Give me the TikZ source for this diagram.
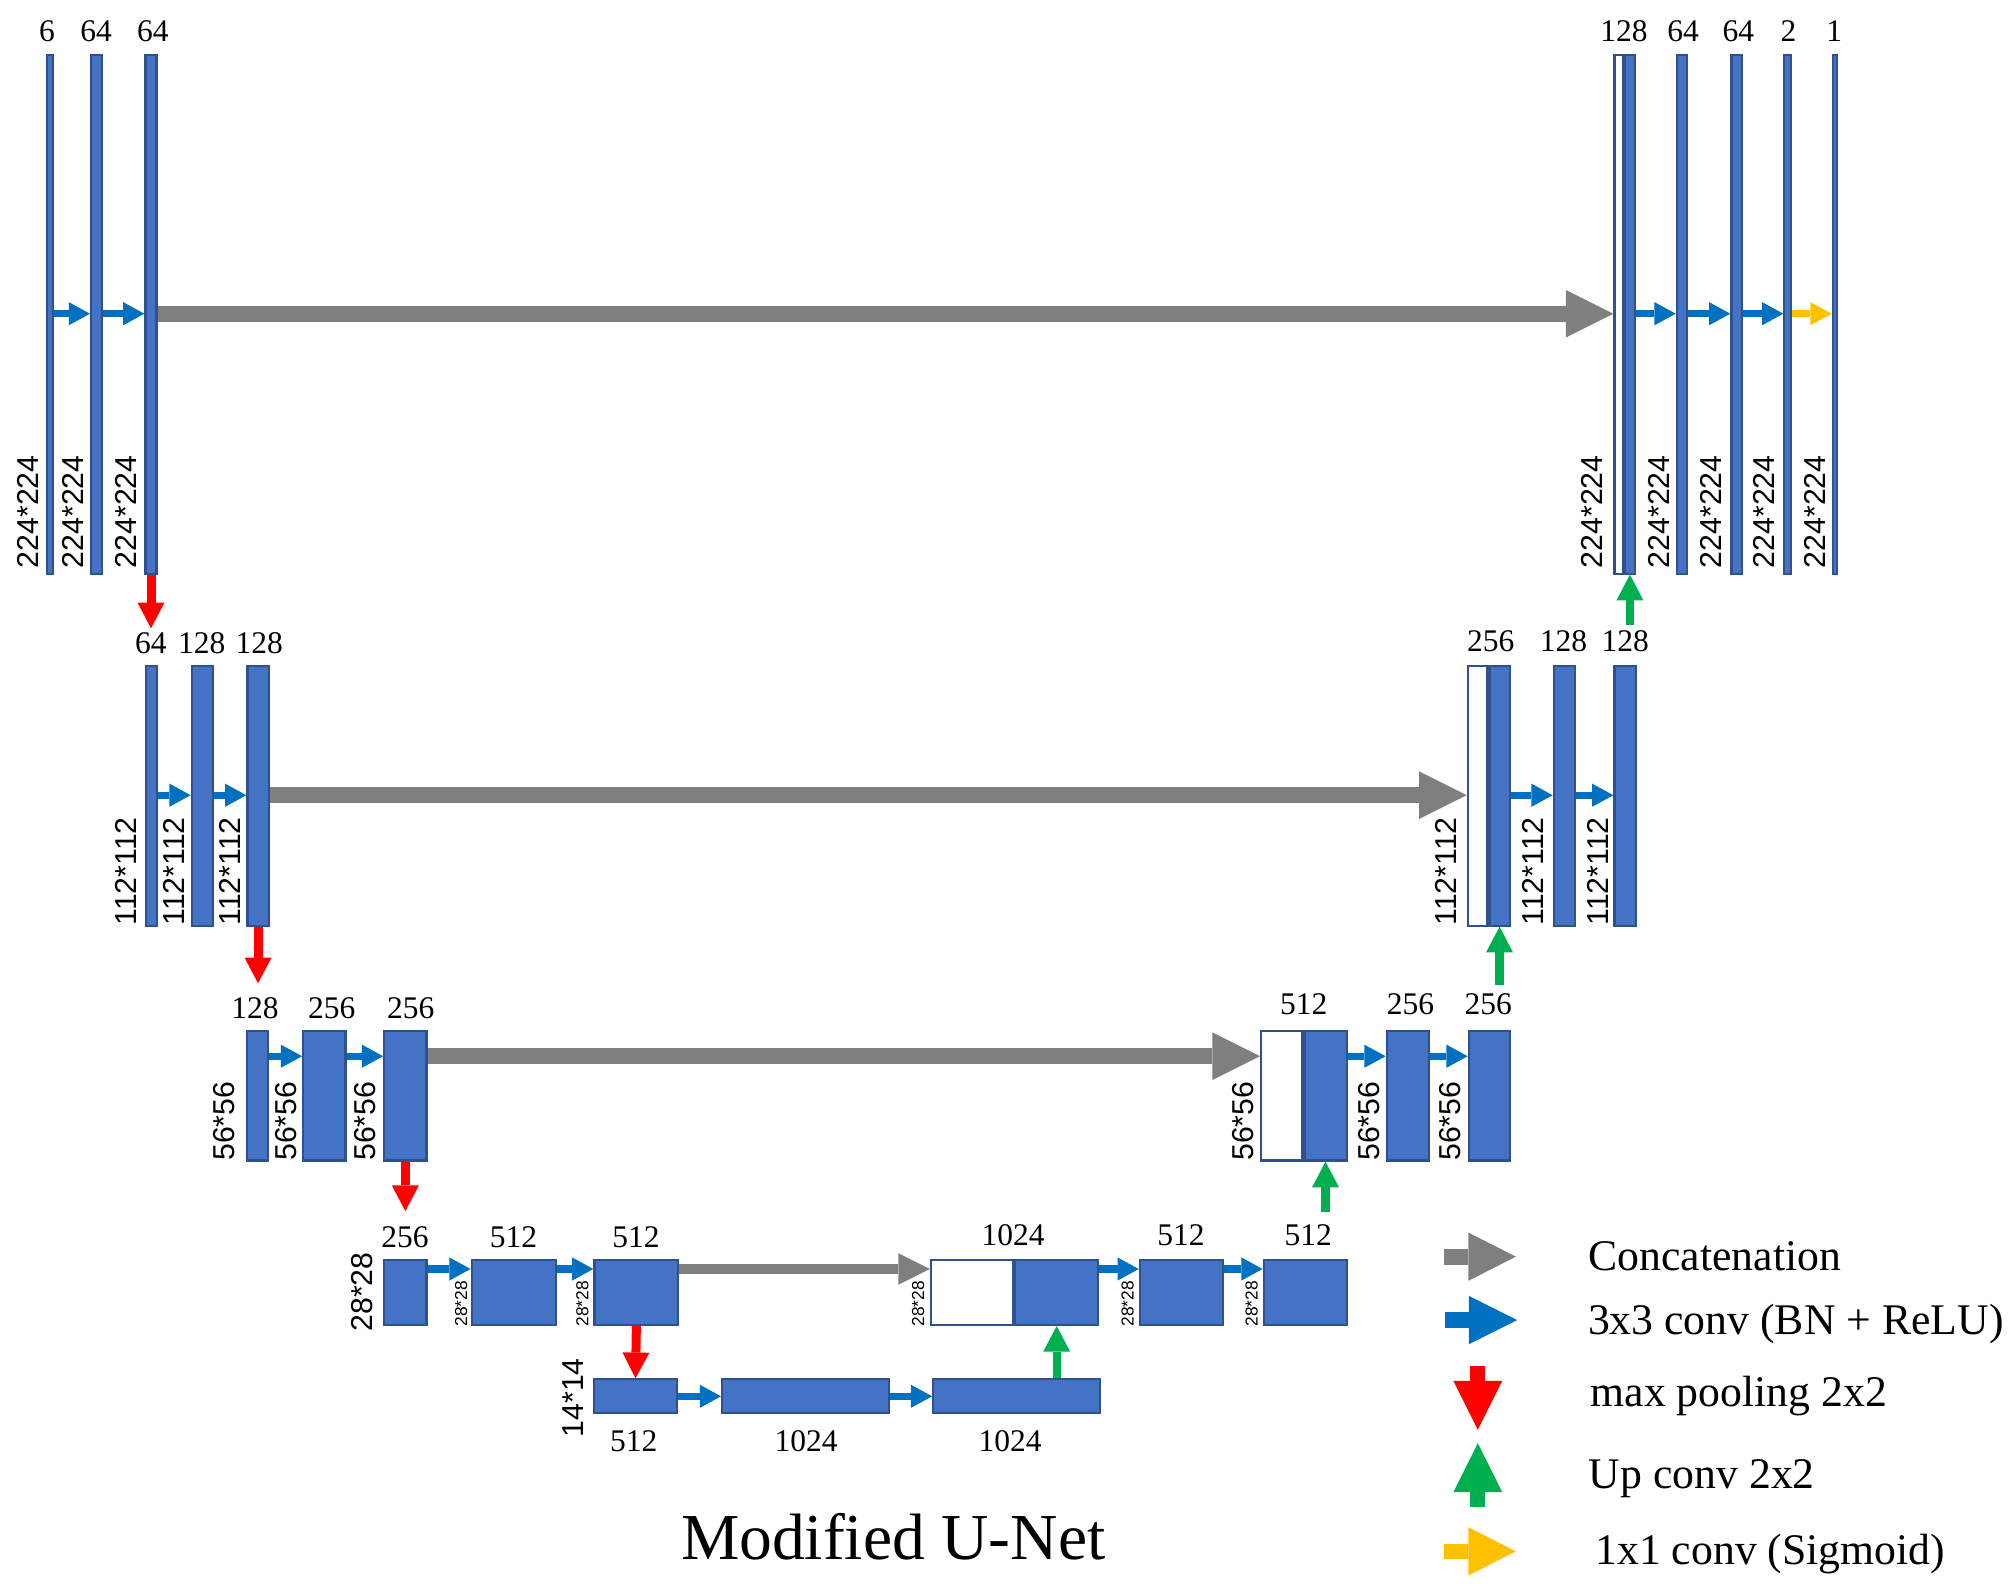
\documentclass[tikz,border=0pt]{standalone}
\usepackage{fontspec}
\setmainfont{Liberation Serif}
\newfontfamily\dimfont{Liberation Sans}
\usetikzlibrary{arrows.meta}
\definecolor{barfill}{HTML}{4472C4}
\definecolor{barline}{HTML}{2F528F}
\definecolor{cblue}{HTML}{0070C0}
\definecolor{cgray}{HTML}{7F7F7F}
\definecolor{cred}{HTML}{FF0000}
\definecolor{cgreen}{HTML}{00B050}
\definecolor{cyellow}{HTML}{FFC000}
\tikzset{
  bar/.style={draw=barline, fill=barfill, line width=1.7pt, inner sep=0pt},
  catw/.style={bar, fill=white},
  num/.style={anchor=base, inner sep=0pt, font=\fontsize{24.5}{24.5}\selectfont},
  dimlab/.style={rotate=90, anchor=west, inner sep=0pt, font=\dimfont\fontsize{23.5}{23.5}\selectfont},
  dimsmall/.style={rotate=90, anchor=west, inner sep=0pt, font=\dimfont\fontsize{13.5}{13.5}\selectfont},
  legtext/.style={anchor=base west, inner sep=0pt, font=\fontsize{34}{34}\selectfont},
  conv/.style={draw=cblue, line width=5.5pt, -{Triangle[length=16.5pt,width=18pt,line width=0pt]}},
  sigm/.style={draw=cyellow, line width=5.5pt, -{Triangle[length=16.5pt,width=18pt,line width=0pt]}},
  concat/.style={draw=cgray, line width=12.5pt, -{Triangle[length=37pt,width=37pt,line width=0pt]}},
  concatsmall/.style={draw=cgray, line width=8pt, -{Triangle[length=24.5pt,width=24.5pt,line width=0pt]}},
  pool/.style={draw=cred, line width=7pt, -{Triangle[length=20pt,width=21pt,line width=0pt]}},
  upconv/.style={draw=cgreen, line width=6.5pt, -{Triangle[length=20pt,width=21pt,line width=0pt]}},
  leggray/.style={draw=cgray, line width=12.2pt, -{Triangle[length=37pt,width=37.6pt,line width=0pt]}},
  legblue/.style={draw=cblue, line width=12.2pt, -{Triangle[length=37.6pt,width=37.6pt,line width=0pt]}},
  legred/.style={draw=cred, line width=11.6pt, -{Triangle[length=38pt,width=38pt,line width=0pt]}},
  leggreen/.style={draw=cgreen, line width=11.6pt, -{Triangle[length=38pt,width=38pt,line width=0pt]}},
  legyellow/.style={draw=cyellow, line width=12.2pt, -{Triangle[length=37pt,width=37.6pt,line width=0pt]}},
}
\newcommand\ubar[6][bar]{%
  \node[#1, minimum width={#4-#3-1.7}, minimum height={#6-#5-1.7}] (#2) at ({(#3+#4)/2},{(#5+#6)/2}) {};}
\begin{document}
\begin{tikzpicture}[x=1pt,y=-1pt]
\useasboundingbox (0,0) rectangle (1568,1238);
% helper heights
\coordinate (y1) at (0,244);
\coordinate (y2) at (0,618.5);
\coordinate (y3) at (0,821.5);
\coordinate (y4) at (0,987);
\coordinate (y5) at (0,1086);
\coordinate (p1) at (0,488.7);
\coordinate (p2) at (0,764.8);
\coordinate (p3) at (0,942);
\coordinate (g1) at (0,486);
\coordinate (g2) at (0,766);
\coordinate (g3) at (0,943);
% ---------- level 1 ----------
\ubar{L1a}{35.5}{42}{42}{447}
\ubar{L1b}{70}{80.4}{42}{447}
\ubar{L1c}{112.3}{122.6}{42}{447}
\ubar[catw]{R1w}{1254.8}{1263}{42}{447}
\ubar{R1cat}{1263}{1272.4}{42}{447}
\ubar{R1b}{1303.3}{1313.2}{42}{447}
\ubar{R1c}{1345.8}{1356}{42}{447}
\ubar{R1d}{1387}{1394}{42}{447}
\ubar{R1e}{1424.6}{1429.8}{42}{447}
% ---------- level 2 ----------
\ubar{L2a}{113}{122.9}{517.2}{720.8}
\ubar{L2b}{148.3}{166.4}{517.2}{720.8}
\ubar{L2c}{191.6}{209.8}{517.2}{720.8}
\ubar[catw]{R2w}{1140.8}{1157.6}{517.2}{720.8}
\ubar{R2cat}{1157.6}{1175}{517.2}{720.8}
\ubar{R2b}{1207.6}{1225.8}{517.2}{720.8}
\ubar{R2c}{1254.8}{1273.4}{517.2}{720.8}
% ---------- level 3 ----------
\ubar{L3a}{191}{209}{801}{903.5}
\ubar{L3b}{235}{269.6}{801}{903.5}
\ubar{L3c}{298}{332.6}{801}{903.5}
\ubar[catw]{R3w}{980}{1013.7}{801}{903.5}
\ubar{R3cat}{1013.7}{1048.2}{801}{903.5}
\ubar{R3b}{1077.7}{1112.2}{801}{903.5}
\ubar{R3c}{1141.5}{1175.5}{801}{903.5}
% ---------- level 4 ----------
\ubar{L4a}{298}{332.6}{979}{1031.3}
\ubar{L4b}{366}{433}{979}{1031.3}
\ubar{L4c}{461.5}{528.4}{979}{1031.3}
\ubar[catw]{R4w}{723.3}{788.7}{979}{1031.3}
\ubar{R4cat}{788.7}{855}{979}{1031.3}
\ubar{R4b}{885.7}{952.3}{979}{1031.3}
\ubar{R4c}{982}{1048.4}{979}{1031.3}
% ---------- level 5 ----------
\ubar{L5a}{461}{527.6}{1072}{1100}
\ubar{L5b}{560.8}{692.2}{1072}{1100}
\ubar{L5c}{725}{856.3}{1072}{1100}
% ---------- channel labels ----------
\node[num] (n1a) at (36.5,32.1) {6};
\node[num] (n1b) at (74.8,32.1) {64};
\node[num] (n1c) at (118.9,32.1) {64};
\node[num] (m1a) at (1263,32.1) {128};
\node[num] (m1b) at (1309,32.1) {64};
\node[num] (m1c) at (1352,32.1) {64};
\node[num] (m1d) at (1391,32.1) {2};
\node[num] (m1e) at (1426.7,32.1) {1};
\node[num] (n2a) at (117.4,508.5) {64};
\node[num] (n2b) at (156.9,508.5) {128};
\node[num] (n2c) at (201.7,508.5) {128};
\node[num] (m2a) at (1159.4,507.1) {256};
\node[num] (m2b) at (1216,507.1) {128};
\node[num] (m2c) at (1264,507.1) {128};
\node[num] (n3a) at (198.3,792.1) {128};
\node[num] (n3b) at (258,792.1) {256};
\node[num] (n3c) at (319.4,792.1) {256};
\node[num] (m3a) at (1014,789.1) {512};
\node[num] (m3b) at (1097,789.1) {256};
\node[num] (m3c) at (1157.6,789.1) {256};
\node[num] (n4a) at (315,970.1) {256};
\node[num] (n4b) at (399.3,970.1) {512};
\node[num] (n4c) at (494.7,970.1) {512};
\node[num] (m4a) at (788,969.1) {1024};
\node[num] (m4b) at (918.6,969.1) {512};
\node[num] (m4c) at (1017.6,969.1) {512};
\node[num] (n5a) at (493,1128.6) {512};
\node[num] (n5b) at (627,1128.6) {1024};
\node[num] (n5c) at (785.6,1128.6) {1024};
% ---------- size labels ----------
\node[dimlab] (d1a) at (22,442) {224*224};
\node[dimlab] (d1b) at (56.5,442) {224*224};
\node[dimlab] (d1c) at (98,442) {224*224};
\node[dimlab] (e1a) at (1238,442) {224*224};
\node[dimlab] (e1b) at (1290,442) {224*224};
\node[dimlab] (e1c) at (1331,442) {224*224};
\node[dimlab] (e1d) at (1372,442) {224*224};
\node[dimlab] (e1e) at (1411.7,442) {224*224};
\node[dimlab] (d2a) at (98,720) {112*112};
\node[dimlab] (d2b) at (135.3,720) {112*112};
\node[dimlab] (d2c) at (178.9,720) {112*112};
\node[dimlab] (e2a) at (1125,720) {112*112};
\node[dimlab] (e2b) at (1192.6,720) {112*112};
\node[dimlab] (e2c) at (1243,720) {112*112};
\node[dimlab] (d3a) at (174.2,903) {56*56};
\node[dimlab] (d3b) at (222.5,903) {56*56};
\node[dimlab] (d3c) at (283.9,903) {56*56};
\node[dimlab] (e3a) at (967,903) {56*56};
\node[dimlab] (e3b) at (1065,903) {56*56};
\node[dimlab] (e3c) at (1128,903) {56*56};
\node[dimlab] (d4a) at (282,1035.8) {28*28};
\node[dimsmall] (d4b) at (358.6,1032) {28*28};
\node[dimsmall] (d4c) at (453,1032) {28*28};
\node[dimsmall] (e4a) at (714.2,1032) {28*28};
\node[dimsmall] (e4b) at (877,1032) {28*28};
\node[dimsmall] (e4c) at (973.5,1032) {28*28};
\node[dimlab] (d5a) at (445.4,1118) {14*14};
% ---------- connectors ----------
\draw[conv] (L1a.east |- y1) -- (L1b.west |- y1);
\draw[conv] (L1b.east |- y1) -- (L1c.west |- y1);
\draw[concat] (L1c.east |- y1) -- (R1w.west |- y1);
\draw[conv] (R1cat.east |- y1) -- (R1b.west |- y1);
\draw[conv] (R1b.east |- y1) -- (R1c.west |- y1);
\draw[conv] (R1c.east |- y1) -- (R1d.west |- y1);
\draw[sigm] (R1d.east |- y1) -- (R1e.west |- y1);
\draw[pool] (L1c.south) -- (L1c.south |- p1);
\draw[upconv] (R1cat.south |- g1) -- (R1cat.south);
\draw[conv] (L2a.east |- y2) -- (L2b.west |- y2);
\draw[conv] (L2b.east |- y2) -- (L2c.west |- y2);
\draw[concat] (L2c.east |- y2) -- (R2w.west |- y2);
\draw[conv] (R2cat.east |- y2) -- (R2b.west |- y2);
\draw[conv] (R2b.east |- y2) -- (R2c.west |- y2);
\draw[pool] (L2c.south) -- (L2c.south |- p2);
\draw[upconv] (R2cat.south |- g2) -- (R2cat.south);
\draw[conv] (L3a.east |- y3) -- (L3b.west |- y3);
\draw[conv] (L3b.east |- y3) -- (L3c.west |- y3);
\draw[concat] (L3c.east |- y3) -- (R3w.west |- y3);
\draw[conv] (R3cat.east |- y3) -- (R3b.west |- y3);
\draw[conv] (R3b.east |- y3) -- (R3c.west |- y3);
\draw[pool] (L3c.south) -- (L3c.south |- p3);
\draw[upconv] (R3cat.south |- g3) -- (R3cat.south);
\draw[conv] (L4a.east |- y4) -- (L4b.west |- y4);
\draw[conv] (L4b.east |- y4) -- (L4c.west |- y4);
\draw[concatsmall] (L4c.east |- y4) -- (R4w.west |- y4);
\draw[conv] (R4cat.east |- y4) -- (R4b.west |- y4);
\draw[conv] (R4b.east |- y4) -- (R4c.west |- y4);
\draw[pool] (L4c.south) -- (L5a.north);
\draw[upconv] (R4cat.south |- L5c.north) -- (R4cat.south);
\draw[conv] (L5a.east |- y5) -- (L5b.west |- y5);
\draw[conv] (L5b.east |- y5) -- (L5c.west |- y5);
% ---------- legend ----------
\coordinate (la1) at (1123,977.4);   \coordinate (lb1) at (1179,977.4);
\coordinate (la2) at (1124,1026.7);  \coordinate (lb2) at (1180,1026.7);
\coordinate (la3) at (1149.4,1062.5); \coordinate (lb3) at (1149.4,1112);
\coordinate (la4) at (1149.4,1172.3); \coordinate (lb4) at (1149.4,1122.6);
\coordinate (la5) at (1123,1206.6);  \coordinate (lb5) at (1179,1206.6);
\draw[leggray] (la1) -- (lb1);
\draw[legblue] (la2) -- (lb2);
\draw[legred] (la3) -- (lb3);
\draw[leggreen] (la4) -- (lb4);
\draw[legyellow] (la5) -- (lb5);
\node[legtext] (t1) at (1235.4,987.8) {Concatenation};
\node[legtext] (t2) at (1234.9,1038.3) {3x3 conv (BN + ReLU)};
\node[legtext] (t3) at (1237,1094) {max pooling 2x2};
\node[legtext] (t4) at (1235.6,1157.5) {Up conv 2x2};
\node[legtext] (t5) at (1240.7,1217) {1x1 conv (Sigmoid)};
% ---------- title ----------
\node[anchor=base, inner sep=0pt, font=\fontsize{51}{51}\selectfont] (title) at (694.7,1213) {Modified U-Net};
\end{tikzpicture}
\end{document}
